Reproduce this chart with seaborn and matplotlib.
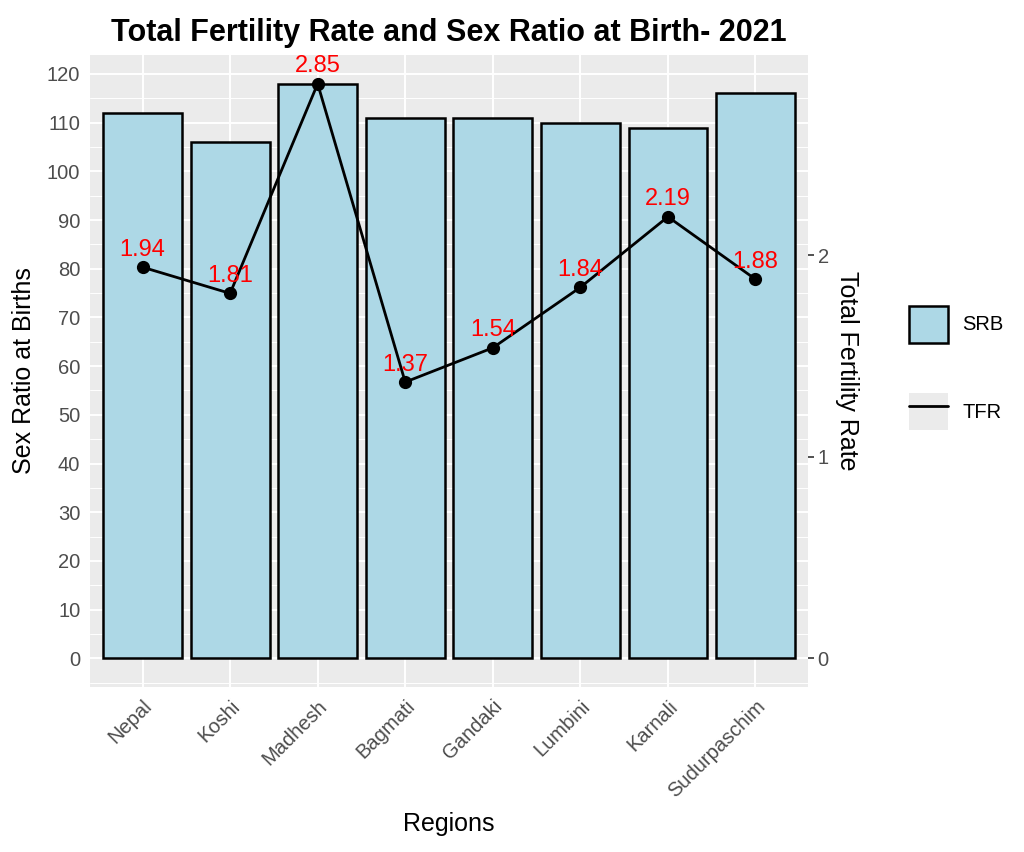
import pandas as pd
import matplotlib.pyplot as plt
import seaborn as sns
from matplotlib.patches import Patch
from matplotlib.lines import Line2D
from matplotlib.ticker import MultipleLocator

# Data
regions = ["Nepal", "Koshi", "Madhesh", "Bagmati", "Gandaki", "Lumbini", "Karnali", "Sudurpaschim"]
srb = [112, 106, 118, 111, 111, 110, 109, 116]
tfr = [1.94, 1.81, 2.85, 1.37, 1.54, 1.84, 2.19, 1.88]

# TFR is drawn on the SRB scale, second axis converts back
scale = max(srb) / max(tfr)

df = pd.DataFrame({"Region": regions, "SRB": srb, "TFR": tfr})
df["TFR_scaled"] = df["TFR"] * scale

sns.set_theme(style="darkgrid", rc={
    "axes.facecolor": "#EBEBEB",
    "grid.color": "white",
    "grid.linewidth": 1.4,
    "text.color": "black",
    "axes.labelcolor": "black",
    "xtick.color": "#333333",
    "ytick.color": "#333333",
    "xtick.labelcolor": "#4D4D4D",
    "ytick.labelcolor": "#4D4D4D",
})
plt.rcParams["font.family"] = ["Liberation Sans", "DejaVu Sans"]

fig = plt.figure(figsize=(10.24, 8.52), dpi=100)
ax = fig.add_axes([90 / 1024, 1 - 687 / 852, (808 - 90) / 1024, (687 - 55) / 852])

sns.barplot(data=df, x="Region", y="SRB", color="#ADD8E6", edgecolor="black",
            linewidth=1.8, width=0.9, saturation=1, ax=ax, zorder=2)
sns.pointplot(data=df, x="Region", y="TFR_scaled", color="black", markersize=8,
              linewidth=2.0, ax=ax, zorder=3)

# red value labels above the points
for i, row in df.iterrows():
    ax.annotate(f"{row['TFR']:.2f}", (i, row["TFR_scaled"]), xytext=(0, 12.5),
                textcoords="offset points", ha="center", va="center",
                color="red", fontsize=17, zorder=4)

ax.set_xlim(-0.6, len(regions) - 0.4)
ax.set_ylim(-5.9, 123.9)
ax.yaxis.set_major_locator(MultipleLocator(10))
ax.yaxis.set_minor_locator(MultipleLocator(5))
ax.grid(which="minor", axis="y", color="white", linewidth=0.7)
ax.grid(which="major", color="white", linewidth=1.4)
ax.set_axisbelow(True)
for s in ax.spines.values():
    s.set_visible(False)

ax.tick_params(axis="both", which="major", length=4, width=1.2, labelsize=14.5)
ax.tick_params(axis="both", which="minor", length=0)
ax.tick_params(axis="x", pad=3)
ax.tick_params(axis="y", pad=3)
plt.setp(ax.get_xticklabels(), rotation=45, ha="right", rotation_mode="anchor")

ax.set_xlabel("Regions", fontsize=18, labelpad=8)
ax.set_ylabel("Sex Ratio at Births", fontsize=18, labelpad=8)
ax.set_title("Total Fertility Rate and Sex Ratio at Birth- 2021", fontsize=22,
             fontweight="bold", pad=10)

ax2 = ax.secondary_yaxis("right", functions=(lambda y: y / scale, lambda y: y * scale))
ax2.set_yticks([0, 1, 2])
ax2.tick_params(axis="y", length=4, width=1.2, labelsize=14.5, pad=3,
                colors="#333333", labelcolor="#4D4D4D")
ax2.spines["right"].set_visible(False)
ax2.set_ylabel("Total Fertility Rate", fontsize=18, rotation=-90, labelpad=22)

# legend
handles = [Patch(facecolor="#ADD8E6", edgecolor="black", linewidth=1.8),
           (Patch(facecolor="#EBEBEB", edgecolor="none"), Line2D([], [], color="black", linewidth=2))]
fig.legend(handles, ["SRB", "TFR"], loc="center left", bbox_to_anchor=(891 / 1024, 1 - 368 / 852),
           frameon=False, fontsize=14.5, handlelength=1.95, handleheight=2.45,
           labelspacing=2.5, handletextpad=0.7)

plt.savefig("out.png", dpi=100)
